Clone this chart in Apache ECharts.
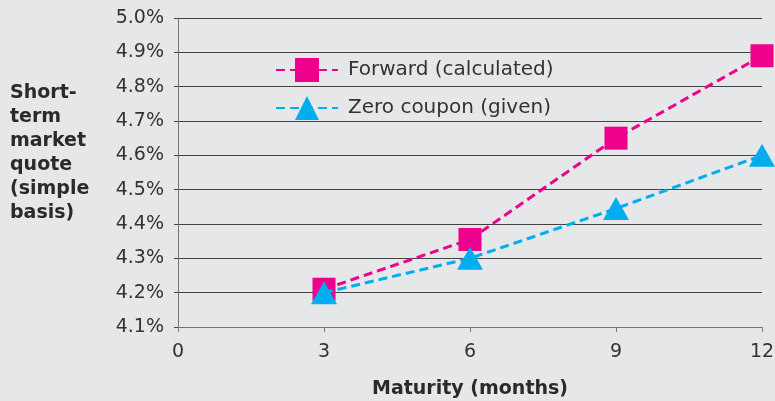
<!DOCTYPE html>
<html><head><meta charset="utf-8">
<script src="https://cdn.jsdelivr.net/npm/echarts@6/dist/echarts.min.js"></script>
<style>html,body{margin:0;padding:0;background:#e6e7e9;}#c{width:775px;height:401px;}</style>
</head><body><div id="c"></div>
<script>
var maturities = [3, 6, 9, 12];
var forwardRates = [4.21, 4.355, 4.65, 4.89];
var zeroRates = [4.20, 4.30, 4.445, 4.60];
var xTicks = [0, 3, 6, 9, 12];
var seriesNames = ['Forward (calculated)', 'Zero coupon (given)'];
var yAxisTitle = 'Short-\nterm\nmarket\nquote\n(simple\nbasis)';
var xAxisTitle = 'Maturity (months)';

function pairs(xs, ys){ return xs.map(function(x,i){ return [x, ys[i]]; }); }

var chart = echarts.init(document.getElementById('c'));
var font = 'DejaVu Sans';
chart.setOption({
  backgroundColor: '#e6e7e9',
  animation: false,
  textStyle: { fontFamily: font },
  grid: { left: 178, right: 13, top: 18, bottom: 74, outerBoundsMode: 'none', containLabel: false },
  legend: {
    orient: 'vertical', left: 275, top: 58, padding: 0,
    itemWidth: 62, itemHeight: 30, itemGap: 14,
    textStyle: { fontSize: 20, color: '#333', fontFamily: font, padding: [0, 0, 0, 5] },
    data: seriesNames
  },
  graphic: [{
    type: 'text', left: 10, top: 81,
    style: { text: yAxisTitle, font: 'bold 19px "DejaVu Sans"', fill: '#2a2a2a', lineHeight: 24 }
  }],
  xAxis: {
    type: 'value', min: 0, max: 12, interval: 3,
    name: xAxisTitle, nameLocation: 'middle', nameGap: 53,
    nameTextStyle: { fontSize: 19, fontWeight: 'bold', color: '#2a2a2a' },
    axisLine: { show: true, lineStyle: { color: '#777', width: 1 } },
    axisTick: { show: true, length: 5, lineStyle: { color: '#777' } },
    axisLabel: { fontSize: 19, color: '#333', margin: 16,
      formatter: function(v){ return xTicks.indexOf(v) >= 0 ? String(v) : ''; } },
    splitLine: { show: false }
  },
  yAxis: {
    type: 'value', min: 4.1, max: 5.0, interval: 0.1,
    axisLine: { show: true, lineStyle: { color: '#777', width: 1 } },
    axisTick: { show: true, length: 4, lineStyle: { color: '#444' } },
    axisLabel: { fontSize: 19, color: '#333', margin: 14,
      formatter: function(v){ return v.toFixed(1) + '%'; } },
    splitLine: { show: true, lineStyle: { color: '#444', width: 1 } }
  },
  series: [{
    name: seriesNames[0], type: 'line', data: pairs(maturities, forwardRates),
    symbol: 'rect', symbolSize: 23,
    itemStyle: { color: '#ec008c' },
    lineStyle: { color: '#ec008c', width: 3, type: [9, 5] },
    z: 3
  }, {
    name: seriesNames[1], type: 'line', data: pairs(maturities, zeroRates),
    symbol: 'triangle', symbolSize: [26, 23],
    itemStyle: { color: '#00aeef' },
    lineStyle: { color: '#00aeef', width: 3, type: [9, 5] },
    z: 4
  }]
});
</script></body></html>
